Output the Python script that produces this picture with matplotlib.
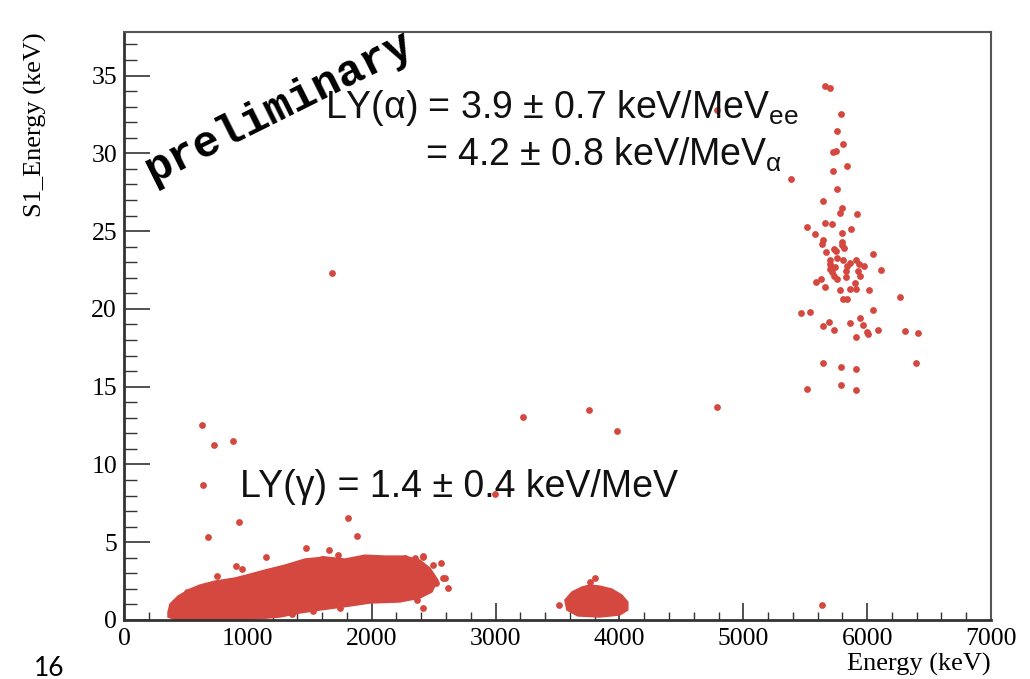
import matplotlib
matplotlib.use("Agg")
import matplotlib.pyplot as plt
from matplotlib.ticker import MultipleLocator

# ---------------- data (Energy keV, S1 energy keV) ----------------
# alpha population around 5.6-6.4 MeV
alpha_x = [5657, 5698, 5787, 5757, 5805, 5725, 5747, 5841, 5725, 5386, 5760, 5644,
           5801, 5779, 5918, 5518, 5663, 5720, 5870, 5580, 5795, 5644, 5639, 5795,
           5801, 5811, 5671, 5730, 5752, 6048, 5698, 5757, 5805, 5859, 5914, 5704,
           5704, 5738, 5838, 5935, 5973, 6112, 5720, 5827, 5930, 5730, 5757, 5833,
           5946, 5625, 5585, 5902, 5660, 5784, 5865, 5914, 6015, 6263, 5805, 5841,
           5466, 5537, 6048, 5940, 5690, 5647, 5860, 5967, 5730, 5999, 6005, 6085,
           6306, 6408, 5914, 5641, 5789, 5910, 6398, 5518, 5789, 5906, 4784]
alpha_y = [34.32, 34.21, 32.50, 31.43, 30.62, 30.08, 30.14, 29.18, 28.86, 28.37, 27.73, 26.91,
           26.51, 26.16, 26.12, 25.26, 25.52, 25.48, 25.11, 24.79, 24.85, 24.40, 24.14, 24.32,
           24.08, 23.94, 23.66, 23.87, 23.72, 23.51, 23.12, 23.27, 23.12, 22.95, 23.12, 22.86,
           22.59, 22.69, 22.74, 22.86, 22.74, 22.48, 22.37, 22.43, 22.43, 22.09, 21.95, 22.05,
           22.09, 21.92, 21.71, 21.66, 21.41, 21.24, 21.30, 21.28, 21.20, 20.75, 20.62, 20.66,
           19.76, 19.78, 19.91, 19.40, 19.14, 18.88, 19.09, 18.99, 18.63, 18.52, 18.41, 18.67,
           18.58, 18.45, 18.22, 16.49, 16.27, 16.14, 16.53, 14.84, 15.11, 14.77, 32.76]

# isolated events
iso_x = [1679, 3218, 3753, 3981, 4788, 2994, 5636, 3513, 3801, 3761]
iso_y = [22.33, 13.02, 13.53, 12.18, 13.68, 8.09, 0.98, 0.94, 2.68, 2.44]

# gamma-band outliers and ragged edge events
gam_x = [632, 726, 880, 638, 926, 676, 1805, 1883, 1469, 1655, 1725, 1144, 1598, 904,
         952, 2411, 2558, 2591, 2618, 2510, 2411, 1743, 1394, 1483, 1604, 1975, 2056,
         2093, 2270, 2349, 2411, 2491, 2518, 2577, 1353, 1528, 748, 506, 2424, 2424,
         2254, 2362, 2335]
gam_y = [12.55, 11.24, 11.52, 8.65, 6.27, 5.33, 6.57, 5.39, 4.60, 4.52, 4.17, 4.05, 3.90, 3.45,
         3.26, 4.05, 3.64, 2.68, 2.04, 2.42, 0.79, 0.75, 3.58, 3.79, 3.90, 3.96, 3.79,
         3.79, 3.96, 3.96, 4.11, 3.53, 2.40, 2.68, 0.37, 0.58, 2.85, 1.82, 1.88, 2.25,
         1.60, 1.28, 3.21]

# envelope of the saturated gamma band (dense region)
band_x = [355, 371, 436, 533, 613, 734, 896, 1017, 1138, 1299, 1461, 1622, 1784, 1945,
          2107, 2268, 2389, 2470, 2534, 2486, 2389, 2228, 1985, 1824, 1582, 1420, 1259,
          1017, 412, 355]
band_y = [0.51, 1.03, 1.54, 1.99, 2.25, 2.50, 2.70, 2.95, 3.21, 3.53, 3.92, 4.05, 3.92, 4.17,
          4.11, 4.11, 3.85, 3.34, 2.57, 1.80, 1.41, 1.16, 1.09, 0.90, 0.64, 0.45, 0.19,
          0.03, 0.03, 0.19]

# envelope of the saturated cluster near 3.8 MeV
blob_x = [3559, 3616, 3697, 3761, 3842, 3939, 4019, 4068, 4068, 4003, 3842, 3664, 3576]
blob_y = [1.28, 1.80, 2.12, 2.25, 2.18, 1.99, 1.61, 1.16, 0.64, 0.32, 0.19, 0.26, 0.64]

x_ticks = [0, 1000, 2000, 3000, 4000, 5000, 6000, 7000]
y_ticks = [0, 5, 10, 15, 20, 25, 30, 35]

RED = "#d5483f"

plt.rcParams["mathtext.fontset"] = "custom"
plt.rcParams["mathtext.rm"] = "Liberation Sans"
plt.rcParams["mathtext.it"] = "Liberation Sans:italic"

fig = plt.figure(figsize=(10.30, 6.79), dpi=100)
ax = fig.add_axes([124 / 1030, 1 - 620 / 679, (991 - 124) / 1030, (620 - 32) / 679])

ax.fill(band_x, band_y, color=RED, lw=1.0, zorder=2)
ax.fill(blob_x, blob_y, color=RED, lw=1.0, zorder=2)
ax.scatter(gam_x, gam_y, s=24, color=RED, lw=0, zorder=3)
ax.scatter(alpha_x, alpha_y, s=24, color=RED, lw=0, zorder=3)
ax.scatter(iso_x, iso_y, s=24, color=RED, lw=0, zorder=3)

ax.set_xlim(0, 7000)
ax.set_ylim(0, 37.8)
ax.set_xticks(x_ticks)
ax.set_yticks(y_ticks)
ax.xaxis.set_minor_locator(MultipleLocator(200))
ax.yaxis.set_minor_locator(MultipleLocator(1))

tick_font = dict(family="Liberation Serif", size=18.5)
ax.set_xticklabels([str(v) for v in x_ticks], **tick_font)
ax.set_yticklabels([str(v) for v in y_ticks], **tick_font)
ax.tick_params(axis="x", which="major", direction="in", length=12.2, width=1.2,
               color="#333333", pad=5.5, top=False)
ax.tick_params(axis="x", which="minor", direction="in", length=5.8, width=1.0,
               color="#333333", top=False)
ax.tick_params(axis="y", which="major", direction="in", length=18.7, width=1.2,
               color="#333333", pad=5, right=False)
ax.tick_params(axis="y", which="minor", direction="in", length=9.4, width=1.0,
               color="#333333", right=False)

for side in ["top", "right"]:
    ax.spines[side].set_color("#555555")
    ax.spines[side].set_linewidth(1.5)
for side in ["left", "bottom"]:
    ax.spines[side].set_color("#333333")
    ax.spines[side].set_linewidth(2.0)

ax.set_xlabel("Energy (keV)", family="Liberation Serif", size=19, loc="right", labelpad=2)
ax.set_ylabel("S1_Energy (keV)", family="Liberation Serif", size=19, loc="top", labelpad=32)

# annotations
ax.text(1622, 32.9, r"LY(α) = 3.9 ± 0.7 keV/MeV$_{\mathrm{ee}}$", family="Liberation Sans",
        size=27, va="center", ha="left", color="#111111", zorder=5)
ax.text(2429, 29.9, r"= 4.2 ± 0.8 keV/MeV$_{\mathrm{α}}$", family="Liberation Sans",
        size=27, va="center", ha="left", color="#111111", zorder=5)
ax.text(936, 8.54, "LY(γ) = 1.4 ± 0.4 keV/MeV", family="Liberation Sans",
        size=27, va="center", ha="left", color="#111111", zorder=5)

fig.text(279 / 1030, 1 - 107 / 679, "preliminary", family="Liberation Mono", weight="bold",
         size=32, rotation=26.5, ha="center", va="center", color="black", zorder=6)

fig.text(49 / 1030, 1 - 676 / 679, "16", family="Lato", size=19, ha="center",
         va="baseline", color="black")

fig.savefig("out.png", dpi=100)
